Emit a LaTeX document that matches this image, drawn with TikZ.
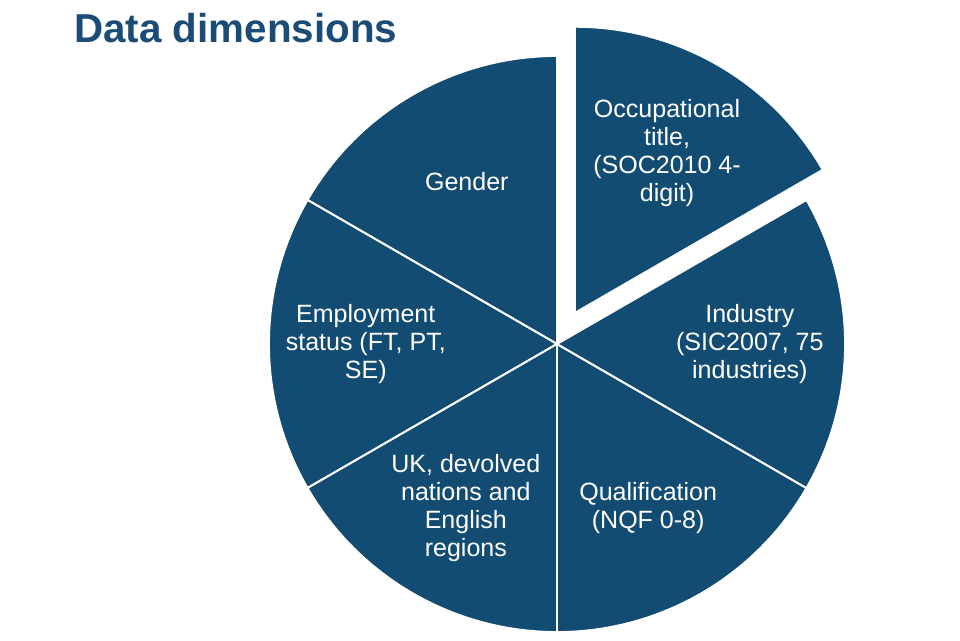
\documentclass[tikz,border=0pt]{standalone}
\usepackage{fontspec}
\setmainfont{Liberation Sans}
\usetikzlibrary{calc}
\definecolor{pieblue}{HTML}{134C72}
\definecolor{titleblue}{HTML}{1A4C76}
\begin{document}
\begin{tikzpicture}[x=0.025cm, y=0.025cm,
    slice/.style={fill=pieblue, draw=white, line width=1.4pt, line join=round},
    lbl/.style={text=white, align=center, inner sep=0pt,
      font=\fontsize{17.8}{19.9}\selectfont}]
  \useasboundingbox (0,0) rectangle (960,640);
  %
  \node[anchor=base west, text=titleblue, inner sep=0pt,
    font=\fontsize{28.7}{32}\selectfont\bfseries] (title) at (74,597) {Data dimensions};
  %
  \coordinate (c) at (557,296);                  % pie centre
  \coordinate (cx) at ($(c)+(60:0.9cm)$);        % centre of pulled-out slice
  %
  \draw[slice] (cx) -- ($(cx)+(30:7.15cm)$) arc[start angle=30, end angle=90, radius=7.15cm] -- cycle;   % occupation
  \draw[slice] (c) -- ($(c)+(90:7.2cm)$) arc[start angle=90, end angle=150, radius=7.2cm] -- cycle;      % gender
  \draw[slice] (c) -- ($(c)+(150:7.2cm)$) arc[start angle=150, end angle=210, radius=7.2cm] -- cycle;    % employment
  \draw[slice] (c) -- ($(c)+(210:7.2cm)$) arc[start angle=210, end angle=270, radius=7.2cm] -- cycle;    % regions
  \draw[slice] (c) -- ($(c)+(270:7.2cm)$) arc[start angle=270, end angle=330, radius=7.2cm] -- cycle;    % qualification
  \draw[slice] (c) -- ($(c)+(330:7.2cm)$) arc[start angle=330, end angle=390, radius=7.2cm] -- cycle;    % industry
  %
  \node[lbl] (occ) at ($(cx)+(60:4.6cm)$) {Occupational\\title,\\(SOC2010 4-\\digit)};
  \node[lbl] (gen) at ($(c)+(119:4.65cm)$) {Gender};
  \node[lbl] (emp) at ($(c)+(180:4.78cm)$) {Employment\\status (FT, PT,\\SE)};
  \node[lbl] (reg) at ($(c)+(241:4.7cm)$) {UK, devolved\\nations and\\English\\regions};
  \node[lbl] (qual) at ($(c)+(299:4.7cm)$) {Qualification\\(NQF 0-8)};
  \node[lbl] (ind) at ($(c)+(0:4.82cm)$) {Industry\\(SIC2007, 75\\industries)};
  %
\end{tikzpicture}
\end{document}
